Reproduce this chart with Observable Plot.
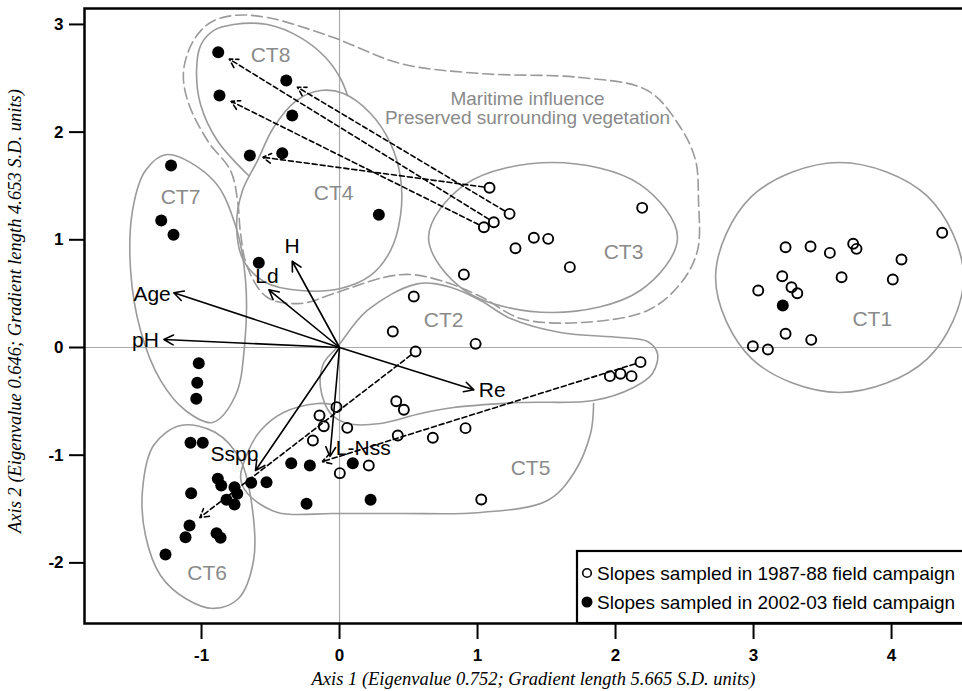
<!DOCTYPE html>
<html>
<head>
<meta charset="utf-8">
<script src="https://cdn.jsdelivr.net/npm/d3@7"></script>
<script src="https://cdn.jsdelivr.net/npm/@observablehq/plot@0.6"></script>
<style>
  html, body { margin: 0; padding: 0; background: white; overflow: hidden; }
  #chart { width: 962px; height: 691px; overflow: hidden; }
  #chart svg { max-width: none !important; display: block; }
</style>
</head>
<body>
<div id="chart"></div>
<script>
// ---------- DATA ----------
const xTicks = [-1, 0, 1, 2, 3, 4];
const yTicks = [-2, -1, 0, 1, 2, 3];
const xTitle = "Axis 1 (Eigenvalue 0.752; Gradient length 5.665 S.D. units)";
const yTitle = "Axis 2 (Eigenvalue 0.646; Gradient length 4.653 S.D. units)";

// Slopes sampled in 2002-03 (filled)
const filledX = [-0.879,-0.386,-0.870,-0.343,-0.650,-0.415,-1.221,-1.292,-1.203,0.285,-0.585,
  -1.020,-1.031,-1.038,-1.080,-0.991,-1.075,-0.882,-0.857,-0.761,-0.741,-0.819,-0.761,-1.087,
  -1.116,-0.891,-0.862,-1.261,-0.640,-0.529,-0.350,-0.215,-0.239,0.096,0.225,3.212];
const filledY = [2.742,2.479,2.340,2.154,1.783,1.804,1.690,1.179,1.046,1.232,0.786,
  -0.146,-0.328,-0.476,-0.885,-0.885,-1.353,-1.219,-1.281,-1.297,-1.358,-1.414,-1.458,-1.653,
  -1.761,-1.724,-1.767,-1.922,-1.256,-1.251,-1.074,-1.096,-1.451,-1.074,-1.414,0.390];

// Slopes sampled in 1987-88 (open)
const openX = [1.087,1.232,1.118,1.046,1.408,1.512,1.275,1.669,2.193,0.901,
  3.232,3.413,3.553,3.722,3.746,4.367,4.072,3.208,3.275,3.317,3.034,3.638,4.009,3.232,3.418,2.995,3.104,
  0.538,0.386,0.986,0.551,0.411,0.466,-0.022,-0.145,-0.114,0.056,-0.193,0.422,0.676,0.913,0.212,0.002,1.027,
  2.181,1.959,2.036,2.116];
const openY = [1.483,1.241,1.163,1.117,1.019,1.009,0.922,0.746,1.297,0.678,
  0.931,0.938,0.879,0.963,0.916,1.065,0.817,0.662,0.560,0.504,0.529,0.653,0.631,0.127,0.071,0.012,-0.019,
  0.474,0.149,0.034,-0.037,-0.499,-0.578,-0.554,-0.631,-0.731,-0.746,-0.864,-0.817,-0.838,-0.749,-1.096,-1.167,-1.411,
  -0.136,-0.266,-0.244,-0.266];

// Trajectories 1987-88 -> 2002-03 (dashed arrows)
const trajX1 = [1.087, 1.232, 1.118, 1.046, 0.551, 2.181];
const trajY1 = [1.483, 1.241, 1.163, 1.117, -0.037, -0.136];
const trajX2 = [-0.650, -0.386, -0.879, -0.870, -1.087, -0.215];
const trajY2 = [1.783, 2.479, 2.742, 2.340, -1.653, -1.096];

// Environmental vectors
const vectorNames = ["H", "Ld", "Age", "pH", "Re", "Sspp", "L-Nss"];
const vectorX = [-0.343, -0.512, -1.201, -1.273, 0.973, -0.609, -0.070];
const vectorY = [0.801, 0.536, 0.508, 0.074, -0.393, -1.142, -1.012];

// Cluster (CT) labels
const ctNames = ["CT1", "CT2", "CT3", "CT4", "CT5", "CT6", "CT7", "CT8"];
const ctX = [3.860, 0.754, 2.058, -0.043, 1.384, -0.959, -1.152, -0.500];
const ctY = [0.266, 0.251, 0.882, 1.430, -1.123, -2.101, 1.393, 2.711];

const groupText = "Maritime influence\nPreserved surrounding vegetation";
const groupTextX = [1.362];
const groupTextY = [2.224];

const legendLabels = ["Slopes sampled in 1987-88 field campaign", "Slopes sampled in 2002-03 field campaign"];

// Hand-drawn cluster outlines (data units)
const ct1Outline = [[3.623,1.718],[4.259,1.405],[4.522,0.650],[4.259,-0.105],[3.623,-0.418],[2.988,-0.105],[2.725,0.650],[2.988,1.405]];
const ct3Outline = [[1.543,1.718],[2.179,1.513],[2.449,1.021],[2.179,0.529],[1.543,0.325],[0.908,0.529],[0.645,1.021],[0.908,1.513]];
const ct7Outline = [[-1.249,1.792],[-0.913,1.551],[-0.754,1.133],[-0.681,0.622],[-0.688,0.019],[-0.754,-0.446],[-0.920,-0.696],[-1.116,-0.585],[-1.297,-0.306],[-1.442,0.158],[-1.514,0.715],[-1.500,1.272],[-1.406,1.643]];
const ct6Outline = [[-1.152,-0.724],[-0.899,-0.789],[-0.717,-1.049],[-0.630,-1.513],[-0.623,-1.978],[-0.732,-2.331],[-0.913,-2.423],[-1.116,-2.331],[-1.297,-2.117],[-1.406,-1.746],[-1.428,-1.328],[-1.348,-0.910]];
const ct8Outline = [[-0.659,1.597],[-0.886,1.922],[-1.007,2.256],[-1.036,2.572],[-1.007,2.804],[-0.913,2.943],[-0.768,2.999],[-0.522,2.999],[-0.283,2.878],[-0.101,2.693],[0.007,2.498],[0.058,2.340]];
const ct4Outline = [[-0.138,2.386],[0.029,2.358],[0.225,2.173],[0.370,1.894],[0.442,1.578],[0.442,1.226],[0.370,0.901],[0.225,0.669],[0.007,0.548],[-0.283,0.529],[-0.536,0.604],[-0.696,0.808],[-0.746,1.133],[-0.703,1.458],[-0.594,1.736],[-0.478,2.043],[-0.312,2.293]];
const ct2Outline = [[-0.017,0.003],[0.201,0.344],[0.563,0.591],[0.804,0.560],[1.022,0.436],[1.239,0.269],[1.601,0.139],[2.036,0.093],[2.232,0.056],[2.304,-0.056],[2.268,-0.241],[2.130,-0.371],[1.841,-0.492],[1.312,-0.511],[0.826,-0.557],[0.587,-0.613],[0.297,-0.706],[0.058,-0.706],[-0.065,-0.613],[-0.138,-0.371],[-0.116,-0.149]];
const ct5Outline = [[1.841,-0.520],[1.819,-0.799],[1.696,-1.170],[1.507,-1.421],[1.022,-1.532],[0.442,-1.541],[-0.043,-1.541],[-0.449,-1.532],[-0.667,-1.356],[-0.717,-1.207],[-0.659,-0.956],[-0.572,-0.771],[-0.406,-0.604],[-0.159,-0.520],[-0.051,-0.529]];
const maritimeOutline = [[-0.768,3.083],[-0.522,3.064],[-0.043,2.878],[0.442,2.637],[1.022,2.544],[1.746,2.507],[2.232,2.386],[2.471,2.043],[2.580,1.736],[2.601,1.365],[2.594,0.901],[2.471,0.594],[2.232,0.344],[1.746,0.232],[1.312,0.269],[1.022,0.474],[0.732,0.622],[0.514,0.678],[0.319,0.650],[-0.043,0.501],[-0.283,0.409],[-0.522,0.464],[-0.667,0.743],[-0.717,1.058],[-0.739,1.365],[-0.790,1.643],[-0.957,1.922],[-1.101,2.293],[-1.130,2.572],[-1.058,2.851],[-0.935,3.018]];

// ---------- BUILD ----------
const filled = filledX.map((x, i) => ({x, y: filledY[i]}));
const open = openX.map((x, i) => ({x, y: openY[i]}));
const traj = trajX1.map((x1, i) => ({x1, y1: trajY1[i], x2: trajX2[i], y2: trajY2[i]}));
const vectors = vectorNames.map((name, i) => ({name, x: vectorX[i], y: vectorY[i]}));
const cts = ctNames.map((name, i) => ({name, x: ctX[i], y: ctY[i]}));

const gray = "#9a9a9a";
const sans = "'Liberation Sans', Arial, Helvetica, sans-serif";
const serif = "'Liberation Serif', 'Times New Roman', serif";

const closedOutlines = [ct1Outline, ct3Outline, ct7Outline, ct6Outline, ct4Outline, ct2Outline];
const openOutlines = [ct8Outline, ct5Outline];

const labelPlacement = {
  "H":     {textAnchor: "middle", dx: 0,  dy: -15},
  "Ld":    {textAnchor: "middle", dx: -2, dy: -14},
  "Age":   {textAnchor: "end",    dx: -3, dy: 1},
  "pH":    {textAnchor: "end",    dx: -5, dy: 1},
  "Re":    {textAnchor: "start",  dx: 5,  dy: 0},
  "Sspp":  {textAnchor: "end",    dx: 3,  dy: -16},
  "L-Nss": {textAnchor: "start",  dx: 6,  dy: -8}
};

const W = 1000, H = 691, ML = 84, MR = 10, MT = 8, MB = 68;

const marks = [
  Plot.ruleX([0], {stroke: "#aaaaaa", strokeWidth: 1.2}),
  Plot.ruleY([0], {stroke: "#aaaaaa", strokeWidth: 1.2}),
  Plot.line(maritimeOutline, {x: d => d[0], y: d => d[1], curve: "catmull-rom-closed", stroke: gray, strokeWidth: 1.6, strokeDasharray: "11,5"}),
  ...closedOutlines.map(o => Plot.line(o, {x: d => d[0], y: d => d[1], curve: "catmull-rom-closed", stroke: gray, strokeWidth: 1.6})),
  ...openOutlines.map(o => Plot.line(o, {x: d => d[0], y: d => d[1], curve: "catmull-rom", stroke: gray, strokeWidth: 1.6})),
  Plot.text(cts, {x: "x", y: "y", text: "name", fill: "#8a8a8a", fontSize: 21, fontFamily: sans}),
  Plot.text(groupTextX, {x: d => d, y: (d, i) => groupTextY[i], text: () => groupText, fill: "#8a8a8a", fontSize: 19, lineHeight: 1.0, fontFamily: sans}),
  Plot.arrow(traj, {x1: "x1", y1: "y1", x2: "x2", y2: "y2", stroke: "black", strokeWidth: 1.6, strokeDasharray: "5,3", headLength: 9, headAngle: 60, insetStart: 6, insetEnd: 13}),
  Plot.arrow(vectors, {x1: () => 0, y1: () => 0, x2: "x", y2: "y", stroke: "black", strokeWidth: 1.6, headLength: 10, headAngle: 55}),
  ...vectors.map(v => Plot.text([v], {x: "x", y: "y", text: "name", fontSize: 21, fontFamily: sans, fill: "black", ...labelPlacement[v.name]})),
  Plot.dot(open, {x: "x", y: "y", r: 5, stroke: "black", strokeWidth: 1.9, fill: "none"}),
  Plot.dot(filled, {x: "x", y: "y", r: 6, fill: "black", stroke: "none"}),
  Plot.frame({stroke: "black", strokeWidth: 2.5}),
  Plot.axisX({ticks: xTicks, tickFormat: d => String(d), tickSize: 16, tickPadding: 9, strokeWidth: 2, fontSize: 17, fontWeight: "bold", fontFamily: sans, label: null}),
  Plot.axisY({ticks: yTicks, tickFormat: d => String(d), tickSize: 15, tickPadding: 6, strokeWidth: 2, fontSize: 17, fontWeight: "bold", fontFamily: sans, label: null}),
  Plot.text([xTitle], {text: d => d, frameAnchor: "bottom", textAnchor: "middle", lineAnchor: "bottom", dy: 61, dx: -4, fontSize: 18.5, fontStyle: "italic", fontFamily: serif, fill: "black"}),
  Plot.text([yTitle], {text: d => d, frameAnchor: "left", textAnchor: "middle", lineAnchor: "middle", rotate: -90, dx: -69, dy: -5, fontSize: 18.5, fontStyle: "italic", fontFamily: serif, fill: "black"})
];

const chart = Plot.plot({
  width: W,
  height: H,
  marginLeft: ML,
  marginRight: MR,
  marginTop: MT,
  marginBottom: MB,
  x: {domain: [-1.848, 4.717]},
  y: {domain: [-2.563, 3.148]},
  style: {fontFamily: sans, background: "white", color: "black", maxWidth: "none"},
  marks
});
chart.style.maxWidth = "none";
chart.setAttribute("width", W);
chart.setAttribute("height", H);

// Legend box inside the plot (bottom-right)
const svg = d3.select(chart);
const yBottom = H - MB;
const lg = svg.append("g").attr("text-anchor", "start");
lg.append("rect").attr("x", 577).attr("y", yBottom - 72).attr("width", 420).attr("height", 72)
  .attr("fill", "white").attr("stroke", "black").attr("stroke-width", 2.2);
lg.append("circle").attr("cx", 587).attr("cy", yBottom - 50).attr("r", 4.3)
  .attr("fill", "none").attr("stroke", "black").attr("stroke-width", 1.6);
lg.append("circle").attr("cx", 587).attr("cy", yBottom - 21).attr("r", 5.5).attr("fill", "black");
legendLabels.forEach((t, i) => {
  lg.append("text").attr("x", 597).attr("y", yBottom - 50 + i * 29).attr("dy", "0.35em")
    .attr("text-anchor", "start")
    .attr("font-size", 19).attr("font-family", sans).attr("fill", "black").text(t);
});

document.getElementById("chart").appendChild(chart);
</script>
</body>
</html>
